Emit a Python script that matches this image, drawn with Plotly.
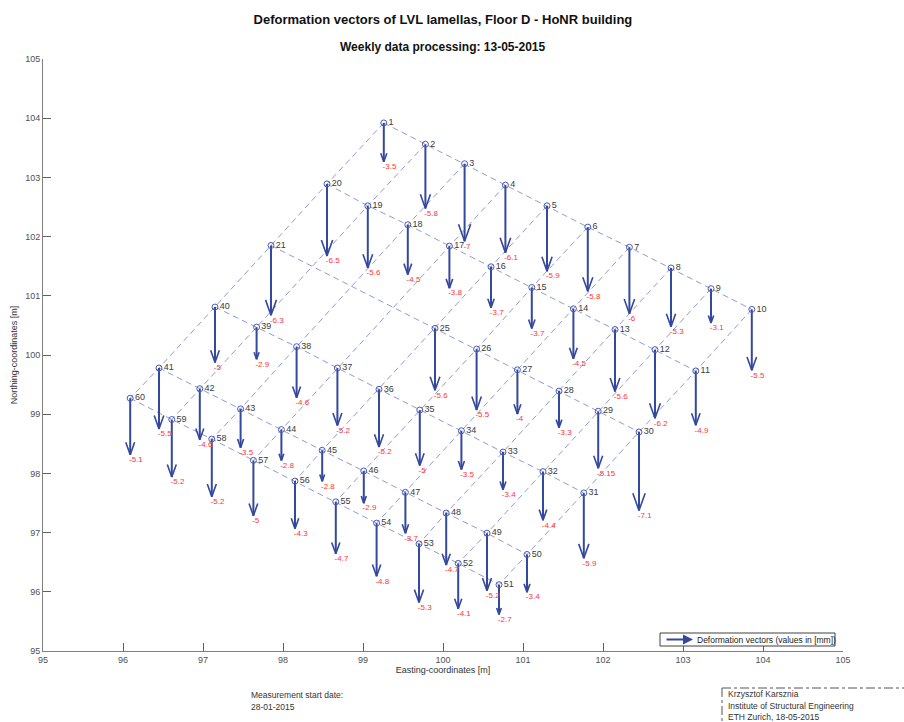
import plotly.graph_objects as go

# ---------------- data ----------------
point_id = [1, 2, 3, 4, 5, 6, 7, 8, 9, 10,
            11, 12, 13, 14, 15, 16, 17, 18, 19, 20,
            21, 25, 26, 27, 28, 29, 30,
            31, 32, 33, 34, 35, 36, 37, 38, 39, 40,
            41, 42, 43, 44, 45, 46, 47, 48, 49, 50,
            51, 52, 53, 54, 55, 56, 57, 58, 59, 60]

easting = [99.26, 99.78, 100.27, 100.78, 101.30, 101.81, 102.33, 102.85, 103.35, 103.86,
           103.16, 102.65, 102.15, 101.63, 101.11, 100.60, 100.08, 99.56, 99.06, 98.55,
           97.85, 99.90, 100.42, 100.93, 101.45, 101.94, 102.45,
           101.76, 101.25, 100.75, 100.23, 99.71, 99.20, 98.68, 98.17, 97.67, 97.15,
           96.45, 96.96, 97.47, 97.98, 98.49, 99.01, 99.53, 100.04, 100.55, 101.05,
           100.70, 100.19, 99.70, 99.17, 98.66, 98.15, 97.63, 97.11, 96.61, 96.09]

northing = [103.92, 103.56, 103.23, 102.87, 102.52, 102.16, 101.82, 101.47, 101.12, 100.77,
            99.73, 100.09, 100.43, 100.78, 101.14, 101.49, 101.84, 102.20, 102.52, 102.89,
            101.85, 100.45, 100.10, 99.75, 99.39, 99.05, 98.70,
            97.67, 98.03, 98.36, 98.72, 99.07, 99.42, 99.78, 100.14, 100.47, 100.81,
            99.78, 99.43, 99.09, 98.74, 98.39, 98.04, 97.68, 97.33, 96.99, 96.63,
            96.12, 96.48, 96.81, 97.16, 97.52, 97.87, 98.22, 98.58, 98.91, 99.27]

deformation_mm = [-3.5, -5.8, -7, -6.1, -5.9, -5.8, -6, -5.3, -3.1, -5.5,
                  -4.9, -6.2, -5.6, -4.5, -3.7, -3.7, -3.8, -4.5, -5.6, -6.5,
                  -6.3, -5.6, -5.5, -4, -3.3, -5.15, -7.1,
                  -5.9, -4.4, -3.4, -3.5, -5, -5.2, -5.2, -4.6, -2.9, -5,
                  -5.5, -4.6, -3.5, -2.8, -2.8, -2.9, -3.7, -4.7, -5.2, -3.4,
                  -2.7, -4.1, -5.3, -4.8, -4.7, -4.3, -5, -5.2, -5.2, -5.1]

# grid connections (point ids)
grid_rows = [[1, 2, 3, 4, 5, 6, 7, 8, 9, 10],
             [20, 19, 18, 17, 16, 15, 14, 13, 12, 11],
             [21, 25, 26, 27, 28, 29, 30],
             [40, 39, 38, 37, 36, 35, 34, 33, 32, 31],
             [41, 42, 43, 44, 45, 46, 47, 48, 49, 50],
             [60, 59, 58, 57, 56, 55, 54, 53, 52, 51]]
grid_cols = [[1, 20, 21, 40, 41, 60],
             [2, 19, 39, 42, 59],
             [3, 18, 38, 43, 58],
             [4, 17, 37, 44, 57],
             [5, 16, 25, 36, 45, 56],
             [6, 15, 26, 35, 46, 55],
             [7, 14, 27, 34, 47, 54],
             [8, 13, 28, 33, 48, 53],
             [9, 12, 29, 32, 49, 52],
             [10, 11, 30, 31, 50, 51]]

x_ticks = [95, 96, 97, 98, 99, 100, 101, 102, 103, 104, 105]
y_ticks = [95, 96, 97, 98, 99, 100, 101, 102, 103, 104, 105]

author_lines = ["Krzysztof Karsznia", "Institute of Structural Engineering", "ETH Zurich, 18-05-2015"]
start_lines = ["Measurement start date:", "28-01-2015"]

# ---------------- style ----------------
FONT = "Liberation Sans, Arial, Helvetica, sans-serif"
ARROW_COLOR = "#34489e"
MARKER_COLOR = "#4a5cb0"
GRID_COLOR = "#8e9bd4"
LABEL_RED = "#ff3535"
ARROW_SCALE = 0.187          # northing units per mm
HEAD_LEN = 0.22              # fraction of arrow length
HEAD_HALF = 0.058            # x-units per unit of arrow length
W, H = 904, 722
ML, MR, MT, MB = 43, 61, 59, 71

pos = {pid: (e, n) for pid, e, n in zip(point_id, easting, northing)}

fig = go.Figure()

# dashed grid
gx, gy = [], []
for line in grid_rows + grid_cols:
    for pid in line:
        gx.append(pos[pid][0]); gy.append(pos[pid][1])
    gx.append(None); gy.append(None)
fig.add_trace(go.Scatter(x=gx, y=gy, mode="lines",
                         line=dict(color=GRID_COLOR, width=1, dash="6px,4px"),
                         hoverinfo="skip", showlegend=False))

# arrows
ax_, ay_ = [], []
hx, hy = [], []
tip_y = []
for e, n, v in zip(easting, northing, deformation_mm):
    L = abs(v) * ARROW_SCALE
    t = n + v * ARROW_SCALE
    tip_y.append(t)
    ax_ += [e, e, None]; ay_ += [n, t, None]
    hx += [e - HEAD_HALF * L, e, e + HEAD_HALF * L, None]
    hy += [t + HEAD_LEN * L, t, t + HEAD_LEN * L, None]
fig.add_trace(go.Scatter(x=ax_, y=ay_, mode="lines",
                         line=dict(color=ARROW_COLOR, width=2),
                         hoverinfo="skip", showlegend=False))
fig.add_trace(go.Scatter(x=hx, y=hy, mode="lines",
                         line=dict(color=ARROW_COLOR, width=1.6),
                         hoverinfo="skip", showlegend=False))

# points + numbers
fig.add_trace(go.Scatter(x=easting, y=northing, mode="markers+text",
                         marker=dict(symbol="circle-open", size=6, color=MARKER_COLOR,
                                     line=dict(width=1, color=MARKER_COLOR)),
                         text=[str(p) for p in point_id], textposition="middle right",
                         textfont=dict(family=FONT, size=9, color="#3a3a3a"),
                         showlegend=False))

# value labels
fig.add_trace(go.Scatter(x=[e - 0.015 for e in easting], y=[t - 0.09 for t in tip_y], mode="text",
                         text=[f"{v:g}" for v in deformation_mm], textposition="middle right",
                         textfont=dict(family=FONT, size=8, color=LABEL_RED),
                         showlegend=False, hoverinfo="skip"))

axis_common = dict(showgrid=False, zeroline=False, showline=True, linecolor="#808080",
                   linewidth=1, ticks="inside", ticklen=8, tickcolor="#606060",
                   tickfont=dict(family=FONT, size=9, color="#505050"), mirror=False,
                   automargin=False)

fig.update_layout(
    width=W, height=H,
    margin=dict(l=ML, r=MR, t=MT, b=MB),
    paper_bgcolor="white", plot_bgcolor="white",
    showlegend=False,
    title=dict(text="<b>Deformation vectors of LVL lamellas, Floor D - HoNR building</b>",
               x=0.49, xanchor="center", y=1 - 19 / H, yanchor="middle",
               font=dict(family=FONT, size=13, color="#111")),
    xaxis=dict(range=[95, 105], tickvals=x_ticks, ticktext=[str(t) for t in x_ticks],
               title=dict(text="Easting-coordinates [m]", standoff=0,
                          font=dict(family=FONT, size=9, color="#333")),
               **axis_common),
    yaxis=dict(range=[95, 105], tickvals=y_ticks, ticktext=[str(t) for t in y_ticks],
               title=dict(text="Northing-coordinates [m]", standoff=6,
                          font=dict(family=FONT, size=9, color="#333")),
               **axis_common),
)

pw, ph = W - ML - MR, H - MT - MB


def px2paper(x, y):
    return (x - ML) / pw, (H - MB - y) / ph


# subtitle
sx, sy = px2paper(443, 47)
fig.add_annotation(x=sx, y=sy, xref="paper", yref="paper", showarrow=False,
                   text="<b>Weekly data processing: 13-05-2015</b>",
                   font=dict(family=FONT, size=12, color="#111"), xanchor="center", yanchor="middle")

# legend box
lx0, ly0 = px2paper(660, 646)
lx1, ly1 = px2paper(835, 633)
fig.add_shape(type="rect", xref="paper", yref="paper", x0=lx0, y0=ly0, x1=lx1, y1=ly1,
              line=dict(color="#404040", width=1), fillcolor="white", layer="above")
a1x, a1y = px2paper(693, 639.5)
fig.add_annotation(x=a1x, y=a1y, ax=-28, ay=0, xref="paper", yref="paper",
                   axref="pixel", ayref="pixel", showarrow=True, arrowhead=2,
                   arrowsize=1, arrowwidth=2, arrowcolor=ARROW_COLOR, text="")
tx, ty = px2paper(695, 639.5)
fig.add_annotation(x=tx, y=ty, xref="paper", yref="paper", showarrow=False,
                   text="Deformation vectors (values in [mm])", xanchor="left", yanchor="middle",
                   font=dict(family=FONT, size=8.5, color="#222"))

# measurement start date
for i, s in enumerate(start_lines):
    mx, my = px2paper(249, 695 + 12 * i)
    fig.add_annotation(x=mx, y=my, xref="paper", yref="paper", showarrow=False,
                       text=s, xanchor="left", yanchor="middle",
                       font=dict(family=FONT, size=8.5, color="#333"))

# author box (dash-dot)
bx0, by0 = px2paper(722, 688)
bx1, by1 = px2paper(904, 722)
fig.add_shape(type="line", xref="paper", yref="paper", x0=bx0, y0=by0, x1=bx1, y1=by0,
              line=dict(color="#555", width=1, dash="dashdot"))
fig.add_shape(type="line", xref="paper", yref="paper", x0=bx0, y0=by0, x1=bx0, y1=by1,
              line=dict(color="#555", width=1, dash="dashdot"))
for i, s in enumerate(author_lines):
    kx, ky = px2paper(726, 694 + 11.5 * i)
    fig.add_annotation(x=kx, y=ky, xref="paper", yref="paper", showarrow=False,
                       text=s, xanchor="left", yanchor="middle",
                       font=dict(family=FONT, size=8.5, color="#333"))

fig.write_html("out.html", config={"displayModeBar": False},
               post_script="document.body.style.margin='0px';document.body.style.overflow='hidden';")
